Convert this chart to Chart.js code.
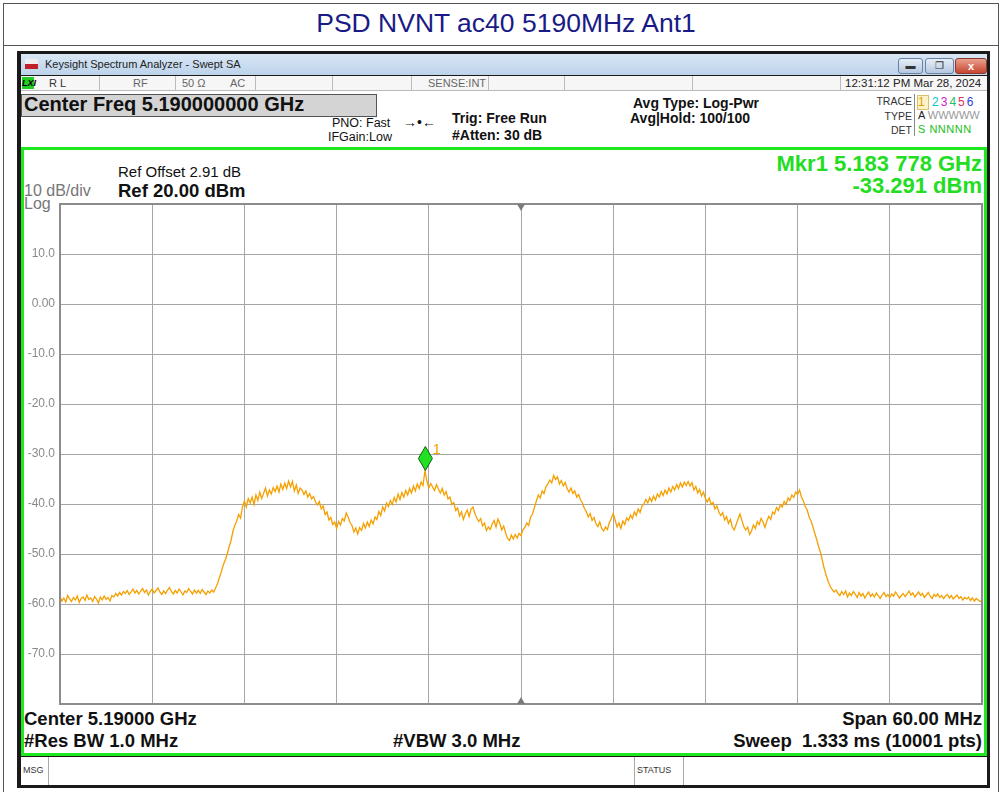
<!DOCTYPE html>
<html>
<head>
<meta charset="utf-8">
<script src="https://cdn.jsdelivr.net/npm/chart.js@4.4.1/dist/chart.umd.min.js"></script>
<style>
  html,body{margin:0;padding:0;background:#fff;}
  body{width:1000px;height:792px;position:relative;overflow:hidden;font-family:"Liberation Sans",Arial,sans-serif;}
  .abs{position:absolute;white-space:nowrap;}
  #chartWrap{position:absolute;left:0;top:0;width:1000px;height:792px;z-index:5;pointer-events:none;}
  .b{font-weight:bold;}
</style>
</head>
<body>
<!-- outer table -->
<div class="abs" style="left:3px;top:3px;width:994px;height:800px;border-left:1px solid #555;border-right:1px solid #555;border-top:1px solid #555;"></div>
<div class="abs" style="left:3px;top:45px;width:995px;height:0;border-top:1px solid #555;"></div>
<div class="abs" style="left:0;top:8px;width:1012px;text-align:center;font-size:26.5px;color:#1a1a86;">PSD NVNT ac40 5190MHz Ant1</div>

<!-- window frame -->
<div class="abs" style="left:17px;top:51px;width:973px;height:737px;background:#1a1a1a;"></div>
<div class="abs" style="left:21px;top:54px;width:966px;height:21px;background:linear-gradient(#d9e7f5,#bcd3ea);"></div>
<div class="abs" style="left:25px;top:59px;width:13px;height:10px;background:linear-gradient(#eee 0,#eee 50%,#c0202a 50%);"></div>
<div class="abs" style="left:45px;top:58px;font-size:11px;color:#222;">Keysight Spectrum Analyzer - Swept SA</div>
<div class="abs" style="left:898px;top:58px;width:23px;height:14px;border:1px solid #6b83a3;border-radius:3px;background:linear-gradient(#e6eef8,#b4c8e0);font-size:10px;text-align:center;line-height:14px;color:#333;">&#9644;</div>
<div class="abs" style="left:925px;top:58px;width:27px;height:14px;border:1px solid #6b83a3;border-radius:3px;background:linear-gradient(#e6eef8,#b4c8e0);font-size:10px;text-align:center;line-height:14px;color:#333;">&#10064;</div>
<div class="abs" style="left:955px;top:58px;width:30px;height:14px;border:1px solid #8a3a30;border-radius:3px;background:linear-gradient(#e9a08e,#c8452f);font-size:11px;text-align:center;line-height:14px;color:#fff;font-weight:bold;">x</div>

<!-- status row -->
<div class="abs" style="left:21px;top:76px;width:966px;height:14px;background:#f6f6f6;border-bottom:1px solid #bbb;"></div>
<div class="abs" style="left:22px;top:77px;width:12px;height:12px;background:#22cc22;font-size:9px;font-weight:bold;font-style:italic;line-height:12px;color:#000;">LXI</div>
<div class="abs" style="left:49px;top:77px;font-size:11px;color:#333;">R L</div>
<div class="abs" style="left:133px;top:77px;font-size:11px;color:#666;">RF</div>
<div class="abs" style="left:182px;top:77px;font-size:11px;color:#666;">50 &Omega;</div>
<div class="abs" style="left:230px;top:77px;font-size:11px;color:#666;">AC</div>
<div class="abs" style="left:428px;top:77px;font-size:11px;color:#666;">SENSE:INT</div>
<div class="abs" style="left:845px;top:77px;font-size:11.5px;color:#222;">12:31:12 PM Mar 28, 2024</div>
<div class="abs" style="left:99px;top:76px;height:14px;border-left:1px solid #bbb;"></div>
<div class="abs" style="left:175px;top:76px;height:14px;border-left:1px solid #bbb;"></div>
<div class="abs" style="left:255px;top:76px;height:14px;border-left:1px solid #bbb;"></div>
<div class="abs" style="left:332px;top:76px;height:14px;border-left:1px solid #bbb;"></div>
<div class="abs" style="left:411px;top:76px;height:14px;border-left:1px solid #bbb;"></div>
<div class="abs" style="left:488px;top:76px;height:14px;border-left:1px solid #bbb;"></div>
<div class="abs" style="left:564px;top:76px;height:14px;border-left:1px solid #bbb;"></div>
<div class="abs" style="left:692px;top:76px;height:14px;border-left:1px solid #bbb;"></div>
<div class="abs" style="left:840px;top:76px;height:14px;border-left:1px solid #bbb;"></div>

<!-- info area -->
<div class="abs" style="left:21px;top:91px;width:966px;height:56px;background:#fff;"></div>
<div class="abs" style="left:21px;top:94px;width:354px;height:21px;background:#d4d4d4;border:1px solid #555;"></div>
<div class="abs b" style="left:24px;top:93px;font-size:20px;color:#111;">Center Freq 5.190000000 GHz</div>
<div class="abs" style="left:332px;top:116px;font-size:12.5px;color:#111;">PNO: Fast</div>
<div class="abs" style="left:328px;top:130px;font-size:12.5px;color:#111;">IFGain:Low</div>
<div class="abs" style="left:403px;top:114px;font-size:14px;color:#111;">&#8594;&#8226;&#8592;</div>
<div class="abs b" style="left:452px;top:110px;font-size:14px;color:#111;">Trig: Free Run</div>
<div class="abs b" style="left:452px;top:127px;font-size:14px;color:#111;">#Atten: 30 dB</div>
<div class="abs b" style="left:633px;top:95px;font-size:14px;color:#111;">Avg Type: Log-Pwr</div>
<div class="abs b" style="left:630px;top:110px;font-size:14px;color:#111;">Avg|Hold: 100/100</div>
<div class="abs" style="left:850px;top:95px;width:62px;text-align:right;font-size:10.5px;color:#333;">TRACE</div>
<div class="abs" style="left:850px;top:110px;width:62px;text-align:right;font-size:10.5px;color:#333;">TYPE</div>
<div class="abs" style="left:850px;top:124px;width:62px;text-align:right;font-size:10.5px;color:#333;">DET</div>
<div class="abs" style="left:914px;top:94px;height:42px;border-left:1px solid #888;"></div>
<div class="abs" style="left:917px;top:95px;width:10px;height:13px;background:#fbf3c8;border:1px solid #d8c070;"></div>
<div class="abs" style="left:918px;top:95px;font-size:12px;letter-spacing:2px;"><span style="color:#e89b00">1</span> <span style="color:#00c8c8">2</span><span style="color:#d020d0">3</span><span style="color:#20c060">4</span><span style="color:#e03060">5</span><span style="color:#3040e0">6</span></div>
<div class="abs" style="left:918px;top:109px;font-size:11px;color:#222;">A <span style="color:#999">WWWWW</span></div>
<div class="abs" style="left:918px;top:123px;font-size:11px;color:#20c020;letter-spacing:0.5px;">S NNNNN</div>

<!-- green frame -->
<div class="abs" style="left:21px;top:147px;width:960px;height:603px;border:3px solid #1ee81e;background:#fff;"></div>
<div class="abs" style="left:118px;top:163px;font-size:15px;color:#111;">Ref Offset 2.91 dB</div>
<div class="abs b" style="left:118px;top:180px;font-size:18.5px;color:#111;">Ref 20.00 dBm</div>
<div class="abs" style="left:24px;top:182px;font-size:16px;color:#777;">10 dB/div</div>
<div class="abs" style="left:24px;top:195px;font-size:16px;color:#777;">Log</div>
<div class="abs b" style="left:600px;top:151px;width:382px;text-align:right;font-size:22px;color:#22dd22;">Mkr1 5.183 778 GHz</div>
<div class="abs b" style="left:600px;top:173px;width:382px;text-align:right;font-size:22px;color:#22dd22;">-33.291 dBm</div>

<div class="abs b" style="left:24px;top:708px;font-size:18.5px;color:#111;">Center 5.19000 GHz</div>
<div class="abs b" style="left:24px;top:730px;font-size:18.5px;color:#111;">#Res BW 1.0 MHz</div>
<div class="abs b" style="left:393px;top:730px;font-size:18.5px;color:#111;">#VBW 3.0 MHz</div>
<div class="abs b" style="left:600px;top:708px;width:382px;text-align:right;font-size:18.5px;color:#111;">Span 60.00 MHz</div>
<div class="abs b" style="left:600px;top:730px;width:382px;text-align:right;font-size:18.5px;color:#111;">Sweep&nbsp;&nbsp;1.333 ms (10001 pts)</div>

<!-- msg bar -->
<div class="abs" style="left:21px;top:757px;width:966px;height:28px;background:#fff;"></div>
<div class="abs" style="left:23px;top:765px;font-size:9px;color:#333;">MSG</div>
<div class="abs" style="left:48px;top:757px;height:28px;border-left:1px solid #aaa;"></div>
<div class="abs" style="left:634px;top:757px;height:28px;border-left:1px solid #aaa;"></div>
<div class="abs" style="left:637px;top:765px;font-size:9px;color:#333;">STATUS</div>
<div class="abs" style="left:683px;top:757px;height:28px;border-left:1px solid #aaa;"></div>

<div id="chartWrap"><canvas id="c" width="1000" height="792"></canvas></div>

<script>
// ---- data ----
const startMHz = 5160;      // start frequency
const stopMHz = 5220;       // stop frequency
const centerMHz = 5190;
const stepMHz = 0.125;      // spacing of the read-off trace samples
const yTicks = [20, 10, 0, -10, -20, -30, -40, -50, -60, -70, -80];
const yTickLabels = ['', '10.0', '0.00', '-10.0', '-20.0', '-30.0', '-40.0', '-50.0', '-60.0', '-70.0', ''];
const markerFreqMHz = 5183.778;
const markerLevel = -33.291;
const traceDbm = [
  -58.5,-59.4,-58.8,-59.6,-58.3,-59.0,-59.5,-58.7, -59.2,-58.4,-59.7,-58.9,-58.6,-59.3,-58.2,-59.1,
  -58.8,-59.5,-58.5,-59.0,-59.8,-58.6,-59.2,-58.4, -59.1,-58.7,-59.4,-58.3,-58.6,-57.9,-58.4,-57.7,
  -58.2,-57.5,-57.9,-57.3,-58.1,-57.6,-57.0,-57.8, -57.3,-58.0,-57.4,-56.9,-57.7,-57.2,-58.2,-57.5,
  -57.0,-57.8,-57.3,-56.8,-57.6,-58.1,-57.4,-57.9, -57.2,-56.7,-57.5,-58.0,-57.3,-57.8,-57.0,-57.6,
  -58.2,-57.4,-57.7,-56.9,-57.5,-58.0,-57.2,-57.8, -57.3,-57.9,-57.1,-57.6,-58.1,-57.4,-57.8,-57.2,
  -57.6,-56.8,-55.9,-54.7,-53.5,-52.2,-51.2,-50.1, -48.6,-47.4,-45.5,-44.3,-43.4,-42.1,-42.8,-40.6,
  -39.4,-40.6,-38.9,-39.8,-38.6,-40.1,-38.2,-39.3, -37.6,-38.9,-37.9,-36.8,-38.4,-37.2,-38.0,-36.7,
  -37.5,-36.4,-37.6,-36.0,-37.1,-35.8,-36.9,-35.4, -36.6,-35.5,-37.4,-36.2,-37.9,-36.8,-37.2,-38.1,
  -37.4,-38.6,-37.9,-39.0,-38.5,-39.6,-40.2,-39.5, -41.0,-40.4,-42.1,-41.6,-43.2,-42.7,-44.1,-43.6,
  -44.9,-43.5,-44.2,-42.9,-43.4,-41.8,-42.6,-43.7, -44.3,-45.6,-44.8,-46.0,-44.7,-45.3,-43.9,-44.8,
  -43.6,-44.5,-43.2,-44.0,-42.6,-43.1,-41.5,-42.3, -40.6,-41.4,-39.8,-40.5,-39.3,-40.1,-38.7,-39.6,
  -38.0,-39.1,-37.7,-38.6,-37.3,-38.2,-36.9,-37.8, -36.4,-37.4,-36.0,-36.9,-35.6,-36.3,-33.3,-35.4,
  -36.8,-35.9,-36.6,-37.3,-36.1,-37.0,-37.8,-36.9, -38.2,-37.5,-39.0,-38.6,-40.1,-39.7,-41.3,-40.8,
  -42.4,-41.6,-43.1,-42.0,-41.2,-42.5,-41.0,-40.6, -41.9,-42.8,-43.5,-42.9,-44.4,-43.8,-45.3,-44.6,
  -45.1,-44.0,-43.3,-44.6,-43.0,-43.9,-45.2,-44.4, -45.8,-46.9,-47.3,-46.2,-47.0,-46.1,-46.8,-45.9,
  -46.3,-45.2,-44.7,-43.8,-44.3,-42.6,-42.0,-40.7, -39.4,-38.2,-38.8,-37.4,-37.9,-36.5,-36.0,-35.2,
  -35.8,-34.3,-35.1,-34.6,-36.0,-35.3,-36.4,-35.7, -36.9,-37.6,-36.8,-37.9,-37.4,-38.6,-38.1,-39.2,
  -39.8,-40.9,-41.5,-42.6,-41.9,-43.3,-42.7,-43.9, -44.5,-43.6,-44.9,-45.4,-44.6,-45.1,-43.7,-42.9,
  -41.9,-43.2,-44.6,-43.8,-44.9,-43.4,-44.1,-42.8, -43.3,-42.2,-42.9,-41.6,-42.3,-41.0,-41.7,-40.4,
  -40.0,-39.1,-39.8,-38.7,-39.5,-38.4,-39.2,-38.0, -38.6,-37.5,-38.3,-37.2,-38.0,-36.8,-37.6,-36.5,
  -37.2,-36.1,-36.9,-35.8,-36.6,-35.6,-36.3,-35.5, -36.4,-35.7,-37.2,-36.5,-37.8,-37.1,-38.4,-37.6,
  -38.9,-39.6,-38.8,-40.1,-39.7,-41.0,-40.4,-41.6, -42.3,-41.7,-43.2,-42.5,-43.9,-43.1,-44.6,-45.2,
  -44.1,-43.0,-42.0,-43.3,-44.5,-45.2,-44.6,-46.1, -45.4,-44.2,-44.9,-43.5,-44.1,-42.9,-43.6,-44.7,
  -43.4,-42.5,-43.1,-41.6,-42.0,-40.7,-41.3,-40.2, -40.6,-39.5,-40.1,-38.8,-39.3,-38.2,-38.7,-37.6,
  -38.1,-37.2,-38.6,-39.4,-40.5,-41.2,-42.6,-43.4, -44.6,-45.9,-47.2,-48.6,-49.8,-51.5,-53.1,-54.4,
  -55.6,-56.5,-57.1,-57.6,-57.2,-57.9,-58.3,-57.5, -58.1,-57.4,-58.6,-57.8,-58.3,-57.5,-58.0,-58.7,
  -57.7,-58.4,-57.9,-58.8,-58.1,-57.6,-58.5,-58.0, -58.6,-57.8,-58.3,-58.9,-58.2,-57.7,-58.5,-58.1,
  -58.7,-58.0,-58.4,-57.6,-58.2,-58.8,-58.3,-57.9, -58.5,-58.0,-57.4,-58.2,-57.8,-58.6,-58.1,-57.6,
  -58.3,-57.9,-58.7,-58.2,-57.7,-58.4,-58.9,-58.1, -58.5,-58.0,-58.7,-58.3,-58.9,-58.4,-58.1,-58.8,
  -58.3,-59.0,-58.6,-58.2,-58.9,-58.5,-59.2,-58.7, -59.0,-58.6,-59.3,-58.8,-59.4,-58.9,-59.2,-59.5,
  -59.3
];

const points = traceDbm.map((v, i) => ({ x: startMHz + i * stepMHz, y: v }));

const framePlugin = {
  id: 'frame',
  afterDatasetsDraw(chart) {
    const { ctx, chartArea: a, scales } = chart;
    ctx.save();
    ctx.strokeStyle = '#8c8c8c';
    ctx.lineWidth = 2;
    ctx.strokeRect(a.left, a.top, a.right - a.left, a.bottom - a.top);
    const cx = scales.x.getPixelForValue(centerMHz);
    ctx.fillStyle = '#7a7a7a';
    ctx.beginPath();
    ctx.moveTo(cx - 4, a.top); ctx.lineTo(cx + 4, a.top); ctx.lineTo(cx, a.top + 7); ctx.closePath(); ctx.fill();
    ctx.beginPath();
    ctx.moveTo(cx - 4, a.bottom); ctx.lineTo(cx + 4, a.bottom); ctx.lineTo(cx, a.bottom - 7); ctx.closePath(); ctx.fill();
    const mx = scales.x.getPixelForValue(markerFreqMHz);
    const my = scales.y.getPixelForValue(markerLevel);
    ctx.beginPath();
    ctx.moveTo(mx, my); ctx.lineTo(mx + 7, my - 12); ctx.lineTo(mx, my - 24); ctx.lineTo(mx - 7, my - 12); ctx.closePath();
    ctx.fillStyle = '#22e022';
    ctx.fill();
    ctx.strokeStyle = '#106010';
    ctx.lineWidth = 1;
    ctx.stroke();
    ctx.fillStyle = '#f0a000';
    ctx.font = '15px "Liberation Sans", Arial, sans-serif';
    ctx.textBaseline = 'alphabetic';
    ctx.fillText('1', mx + 7, my - 16);
    ctx.restore();
  }
};

new Chart(document.getElementById('c'), {
  type: 'line',
  data: {
    datasets: [{
      data: points,
      borderColor: '#f5a000',
      borderWidth: 1.3,
      pointRadius: 0,
      tension: 0,
      fill: false
    }]
  },
  options: {
    responsive: false,
    animation: false,
    events: [],
    layout: { padding: { left: 20, top: 204, right: 18, bottom: 88 }, autoPadding: false },
    plugins: { legend: { display: false }, tooltip: { enabled: false } },
    scales: {
      x: {
        type: 'linear', min: startMHz, max: stopMHz,
        ticks: { display: false, stepSize: 6 },
        grid: { color: '#a6a6a6', lineWidth: 1, drawTicks: false },
        border: { display: false },
        afterFit(s) { s.height = 0; }
      },
      y: {
        min: -80, max: 20,
        afterBuildTicks(s) { s.ticks = yTicks.map(v => ({ value: v })); },
        ticks: {
          color: '#8a8a8a', padding: 5,
          font: { family: 'Liberation Sans', size: 12 },
          callback(v) { const i = yTicks.indexOf(v); return i >= 0 ? yTickLabels[i] : ''; }
        },
        grid: { color: '#a6a6a6', lineWidth: 1, drawTicks: false },
        border: { display: false },
        afterFit(s) { s.width = 40; }
      }
    }
  },
  plugins: [framePlugin]
});
</script>
</body>
</html>
